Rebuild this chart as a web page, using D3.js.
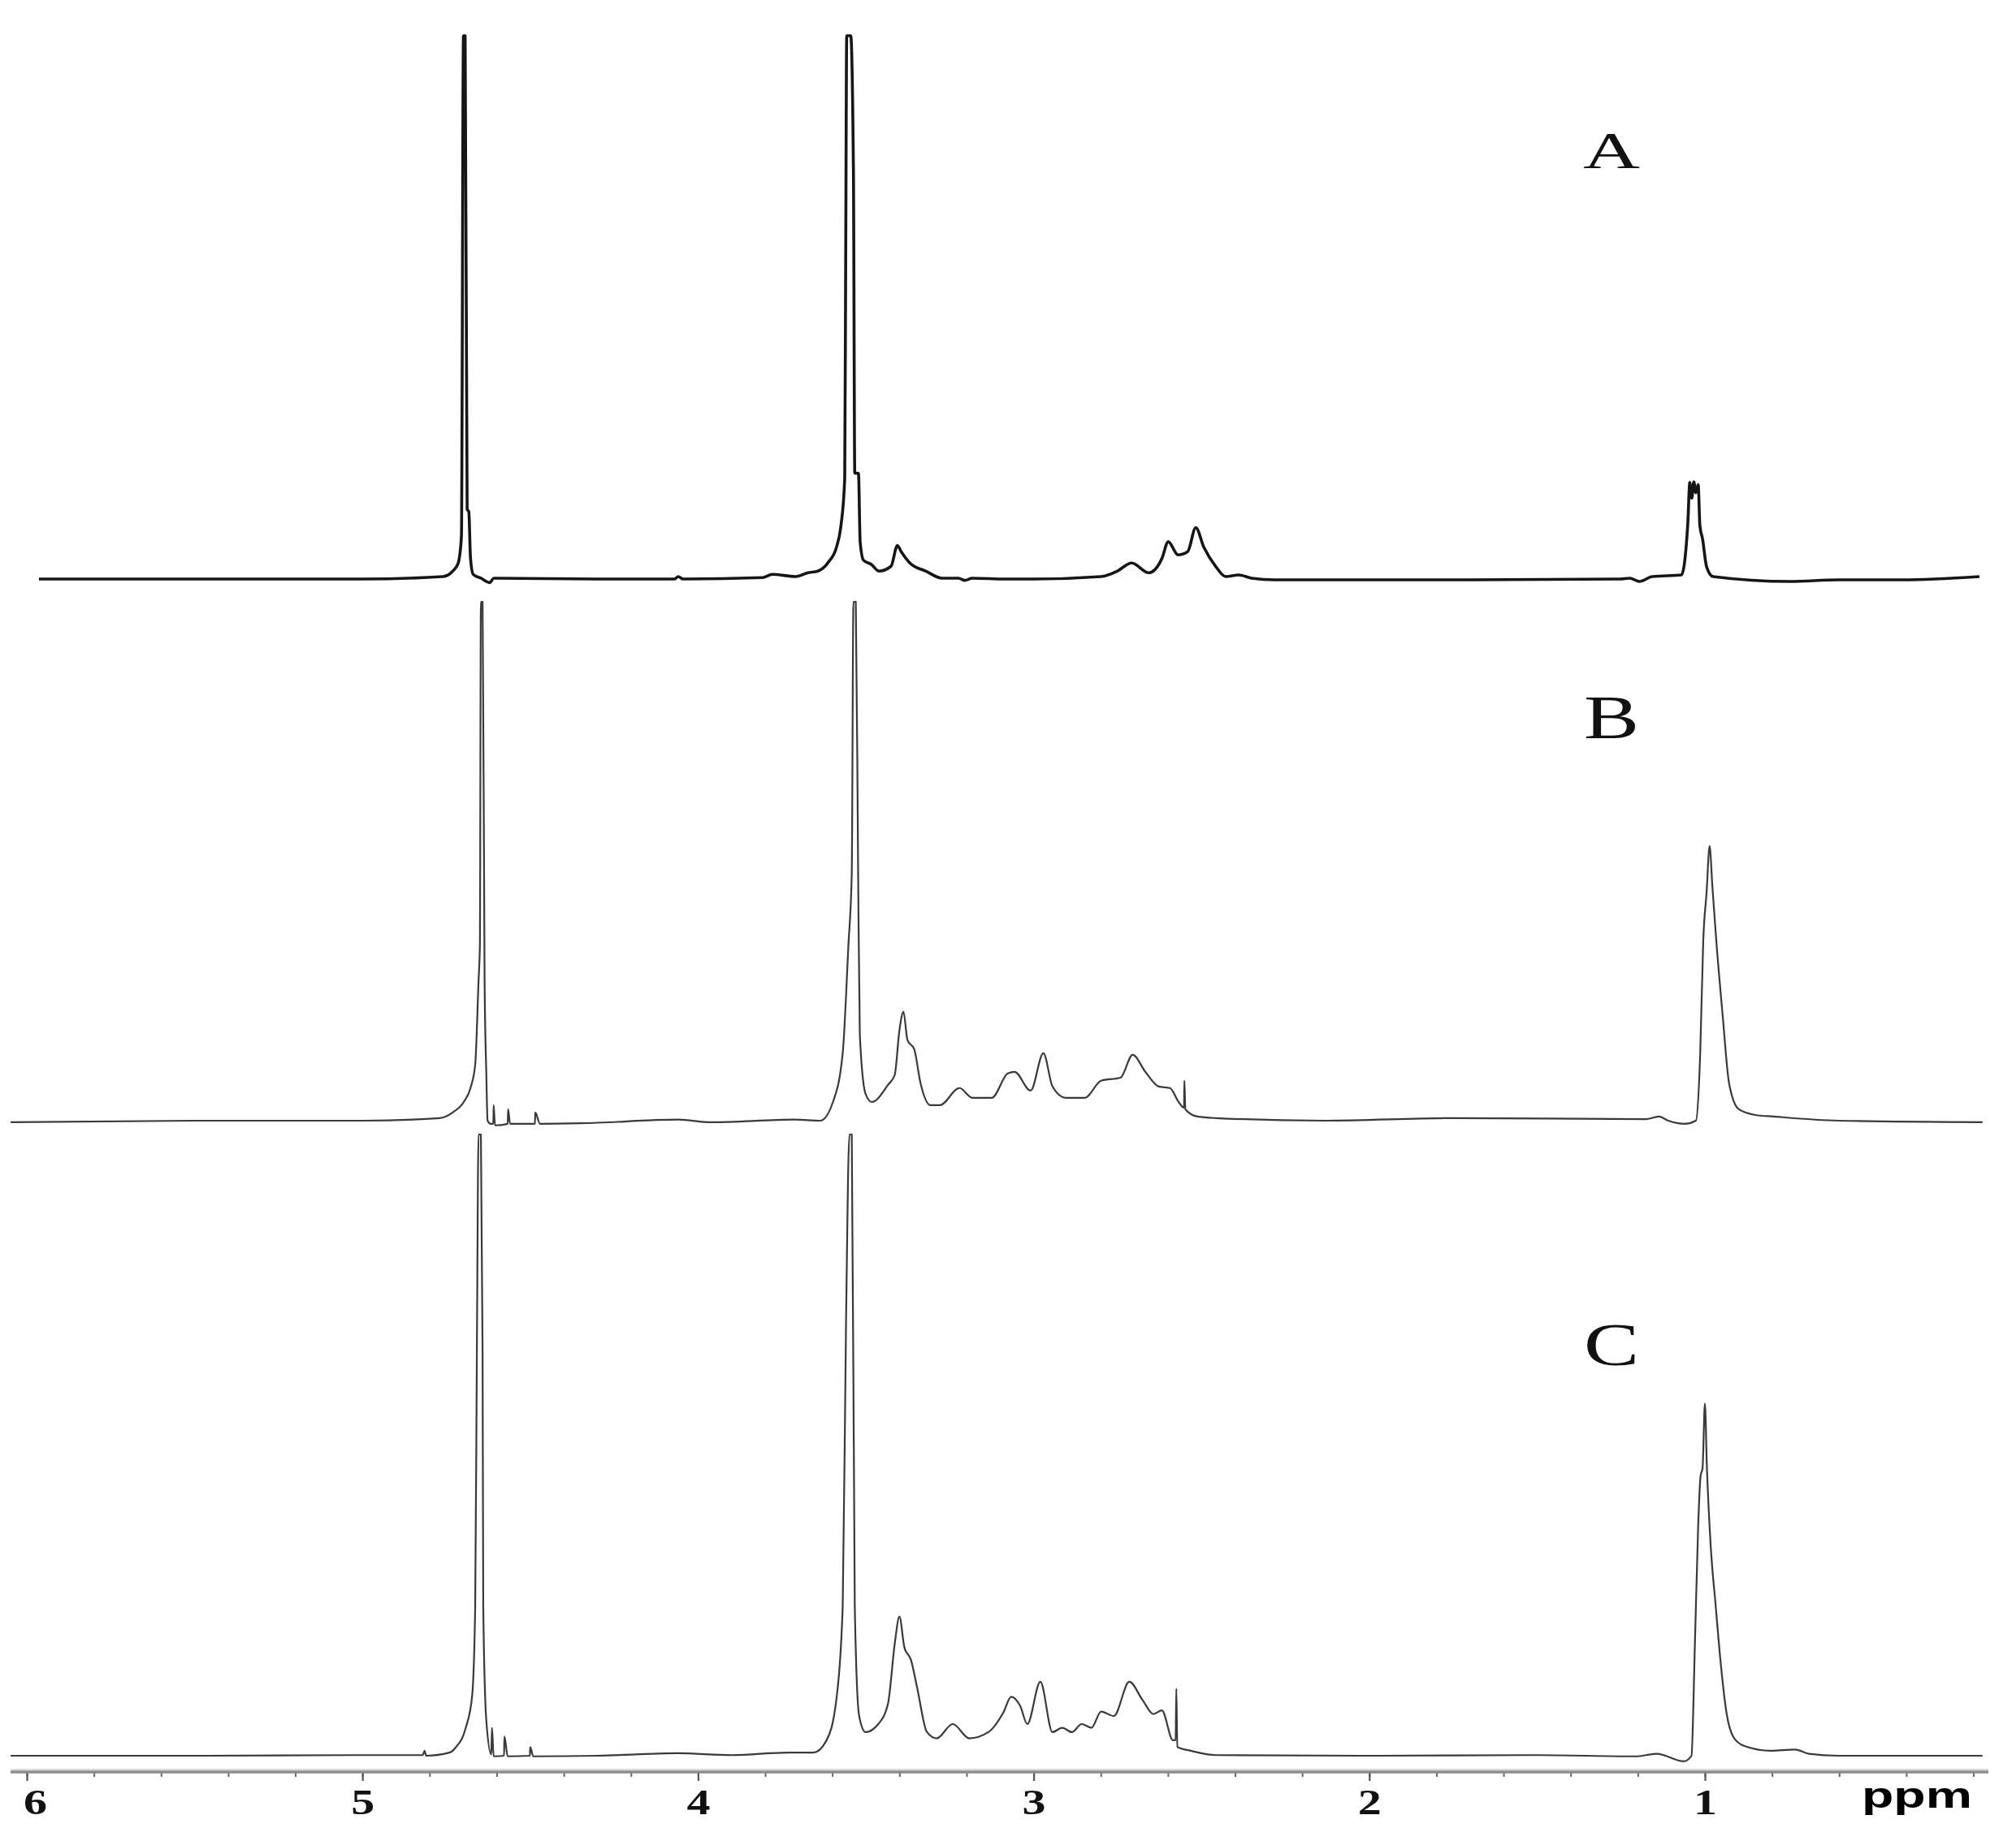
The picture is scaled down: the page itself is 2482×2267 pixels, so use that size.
<!DOCTYPE html>
<html>
<head>
<meta charset="utf-8">
<script src="https://cdn.jsdelivr.net/npm/d3@7"></script>
<style>
  html, body { margin: 0; padding: 0; background: #fff; }
  svg { display: block; }
</style>
</head>
<body>
<script>
// ---------------- DATA (chemical shift ppm, relative intensity %) ----------------
const spectrumA = [
  [5.964,0.15],[5.5,0.15],[5.0,0.15],[4.760,0.6],[4.731,1.6],[4.715,3],[4.705,8],[4.699,100],[4.694,100],
  [4.688,13],[4.683,12.5],[4.678,4],[4.670,1],[4.647,0.3],[4.620,-0.5],[4.609,0.3],[4.30,0.15],[4.070,0.15],
  [4.059,0.6],[4.045,0.15],[3.808,0.4],[3.779,1.0],[3.709,0.6],[3.672,1.3],[3.643,1.6],[3.611,3.3],[3.587,6.1],
  [3.575,9.6],[3.563,18.5],[3.560,60],[3.557,100],[3.545,100],[3.537,75],[3.533,19.6],[3.522,19.6],
  [3.517,7.0],[3.507,3.6],[3.483,2.8],
  [3.461,1.6],[3.425,2.5],[3.406,6.3],[3.394,5.1],[3.369,3.1],[3.321,1.6],[3.273,0.3],[3.224,0.3],
  [3.205,-0.1],[3.183,0.3],[3.086,0.15],[2.999,0.15],[2.799,0.6],[2.751,1.6],[2.708,3.1],[2.657,1.3],
  [2.618,3.9],[2.599,7.0],[2.570,4.6],[2.541,5.2],[2.517,9.6],[2.493,6.0],[2.457,2.4],[2.428,0.6],
  [2.389,0.9],[2.351,0.3],[2.283,0.0],[1.700,0.0],[1.253,0.15],[1.224,0.3],[1.195,-0.3],[1.157,0.6],
  [1.070,0.9],[1.051,10.3],[1.045,17.9],[1.039,15],[1.033,18],[1.027,16],[1.020,17.5],[1.015,10],
  [1.007,7.5],[0.995,2.4],[0.976,0.6],[0.747,-0.3],[0.602,0.0],[0.412,0.0],[0.182,0.6]
];

const spectrumB = [
  [6.048,-0.3],[5.5,0],[5.0,0],[4.770,0.5],[4.731,1.6],[4.698,3.6],[4.678,6.3],[4.664,10.8],[4.654,27],
  [4.650,33.8],[4.647,100],[4.642,100],[4.636,27],[4.631,9.4],[4.627,0],[4.618,-0.6],[4.610,-0.6],
  [4.609,3],[4.605,-0.9],[4.567,-0.6],[4.566,2.2],[4.560,-0.6],[4.486,-0.6],[4.485,1.6],[4.471,-0.6],
  [4.348,-0.5],[4.058,0.2],[3.962,-0.3],[3.711,0.2],[3.636,0],[3.598,3.6],[3.569,13],[3.552,33.8],
  [3.542,47.6],[3.537,100],[3.530,100],[3.523,47.6],[3.518,16.6],[3.501,5.2],[3.482,3.6],[3.434,6.9],
  [3.414,8.8],[3.400,17.4],[3.388,21],[3.376,15.5],[3.356,13.8],[3.337,7.2],[3.308,3],[3.279,3],
  [3.221,6.3],[3.183,4.4],[3.125,4.4],[3.077,9.1],[3.057,9.4],[3.009,5.8],[2.971,13],[2.944,6.6],
  [2.905,4.4],[2.848,4.4],[2.799,7.7],[2.741,8.3],[2.705,12.7],[2.667,9.4],[2.628,6.6],[2.594,6.3],
  [2.568,3.6],[2.552,2.5],[2.551,7.7],[2.548,2.2],[2.512,0.8],[2.457,0.5],[2.131,0],[1.750,0.5],
  [1.176,0.3],[1.137,0.8],[1.109,0],[1.060,-0.6],[1.027,0],[1.014,13],[1.005,34.6],[0.995,44],
  [0.986,52.9],[0.978,45.4],[0.966,34.6],[0.947,20.2],[0.928,7.2],[0.899,2.2],[0.850,1.1],[0.795,0.8],
  [0.602,0],[0.173,-0.3]
];

const spectrumC = [
  [6.048,0],[5.5,0],[5.0,0.1],[4.820,0.1],[4.815,0.8],[4.810,0],[4.741,0.5],[4.721,1.4],[4.692,4.5],
  [4.673,9.7],[4.664,24],[4.659,65],[4.654,100],[4.647,100],[4.642,65],[4.640,24],[4.631,5.8],
  [4.616,0.2],[4.614,4.5],[4.609,-0.1],[4.578,0],[4.577,3.1],[4.567,-0.1],[4.501,0],[4.500,1.4],
  [4.491,-0.1],[4.30,0],[4.060,0.4],[3.900,0.1],[3.730,0.5],[3.656,0.5],[3.617,2.5],[3.588,9],
  [3.569,24],[3.559,70],[3.549,100],[3.542,100],[3.533,24],[3.520,6.4],[3.501,3.8],[3.463,5.1],
  [3.434,8.4],[3.414,18],[3.400,22.4],[3.385,17.4],[3.366,15.5],[3.347,10.9],[3.318,3.8],[3.289,2.8],
  [3.241,5.1],[3.192,2.8],[3.135,3.8],[3.090,7],[3.067,9.5],[3.040,8],[3.019,5.1],[2.980,11.9],
  [2.944,3.8],[2.915,4.5],[2.886,3.8],[2.857,5.1],[2.828,4.5],[2.799,7.1],[2.761,6.4],[2.715,11.9],
  [2.676,9.0],[2.643,6.7],[2.618,7.3],[2.585,2.5],[2.577,2.5],[2.575,10.8],[2.572,1.4],[2.532,0.8],
  [2.457,0.1],[2.000,0],[1.500,0.1],[1.208,-0.1],[1.143,0.3],[1.063,-0.9],[1.040,0],[1.030,17.6],
  [1.020,37.1],[1.013,45],[1.007,46.3],[1.000,56.7],[0.994,46.3],[0.983,34],[0.968,24.2],[0.952,14.4],
  [0.935,6.7],[0.915,3.0],[0.884,1.6],[0.804,0.8],[0.731,1.0],[0.690,0.3],[0.602,0],[0.173,0]
];

const panelLabels = ["A", "B", "C"];
const majorTicks = [6, 5, 4, 3, 2, 1];
const minorTicks = [6.0,5.8,5.6,5.4,5.2,5.0,4.8,4.6,4.4,4.2,4.0,3.8,3.6,3.4,3.2,3.0,2.8,2.6,2.4,2.2,2.0,1.8,1.6,1.4,1.2,1.0,0.8,0.6,0.4,0.2];
const axisUnit = "ppm";

// ---------------- LAYOUT ----------------
const W = 2482, H = 2267;
const svg = d3.select("body").append("svg")
  .attr("width", W).attr("height", H)
  .attr("viewBox", `0 0 ${W} ${H}`);
svg.append("rect").attr("width", W).attr("height", H).attr("fill", "#fff");

// x: ppm decreasing left->right
const x = d3.scaleLinear().domain([6, 1]).range([33, 2099]);

const panels = [
  { data: spectrumA, base: 714,  top: 44,   color: "#161616", width: 3.6, label: { y: 207,  size: 64, len: 70 } },
  { data: spectrumB, base: 1380, top: 741,  color: "#3a3a3a", width: 2.2, label: { y: 909,  size: 77, len: 68 } },
  { data: spectrumC, base: 2162, top: 1397, color: "#3a3a3a", width: 2.2, label: { y: 1681, size: 74, len: 68 } }
];

panels.forEach((p, i) => {
  const y = d3.scaleLinear().domain([0, 100]).range([p.base, p.top]);
  const line = d3.line()
    .x(d => x(d[0]))
    .y(d => y(d[1]))
    .curve(d3.curveMonotoneX);
  svg.append("path")
    .datum(p.data)
    .attr("d", line)
    .attr("fill", "none")
    .attr("stroke", p.color)
    .attr("stroke-width", p.width)
    .attr("stroke-linejoin", "round");

  svg.append("text")
    .attr("x", 1984)
    .attr("y", p.label.y)
    .attr("text-anchor", "middle")
    .attr("font-family", "'Liberation Serif', 'Times New Roman', serif")
    .attr("font-size", p.label.size)
    .attr("textLength", p.label.len)
    .attr("lengthAdjust", "spacingAndGlyphs")
    .attr("fill", "#111")
    .text(panelLabels[i]);
});

// ---------------- AXIS ----------------
const axisY = 2182;
const axisG = svg.append("g").attr("transform", `translate(0,${axisY})`);

// minor ticks
axisG.append("g")
  .call(d3.axisBottom(x).tickValues(minorTicks).tickSize(6).tickFormat(""))
  .call(g => g.select(".domain").remove())
  .call(g => g.selectAll(".tick line").attr("stroke", "#666").attr("stroke-width", 2));

// major ticks + labels
axisG.append("g")
  .call(d3.axisBottom(x).tickValues(majorTicks).tickSize(11).tickPadding(10).tickFormat(d3.format("d")))
  .call(g => g.select(".domain").remove())
  .call(g => g.selectAll(".tick line").attr("stroke", "#555").attr("stroke-width", 2.2))
  .call(g => g.selectAll(".tick text")
    .attr("font-family", "'Liberation Serif', 'Times New Roman', serif")
    .attr("font-weight", "bold")
    .attr("font-size", 44)
    .attr("fill", "#111")
    .attr("textLength", 29)
    .attr("lengthAdjust", "spacingAndGlyphs")
    .attr("dx", d => d === 6 ? 10 : 0));

// axis baseline (grey rule)
axisG.append("line")
  .attr("x1", 13).attr("x2", 2448).attr("y1", 0).attr("y2", 0)
  .attr("stroke", "#8c8c8c").attr("stroke-width", 3.5);
axisG.append("line")
  .attr("x1", 13).attr("x2", 2448).attr("y1", -3).attr("y2", -3)
  .attr("stroke", "#cfcfcf").attr("stroke-width", 1.5);

// unit label
svg.append("text")
  .attr("x", 2292).attr("y", 2226)
  .attr("font-family", "'Liberation Sans', Arial, sans-serif")
  .attr("font-weight", "bold")
  .attr("font-size", 45)
  .attr("textLength", 136)
  .attr("lengthAdjust", "spacingAndGlyphs")
  .attr("fill", "#000")
  .text(axisUnit);
</script>
</body>
</html>
